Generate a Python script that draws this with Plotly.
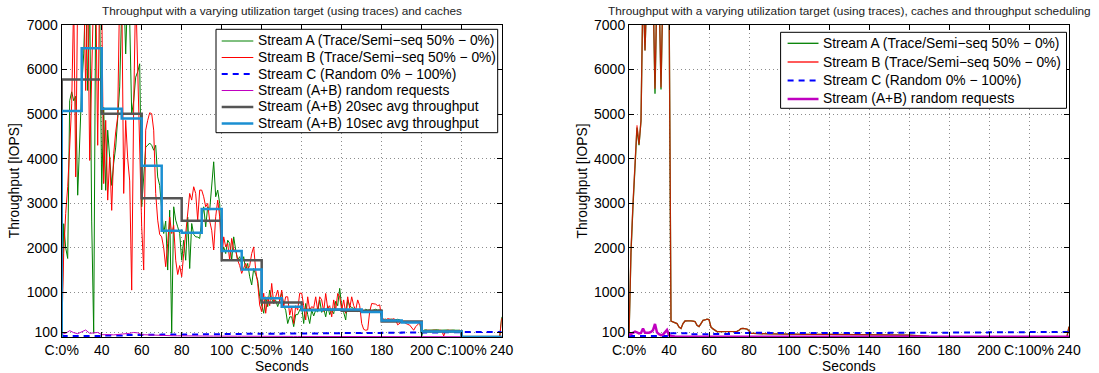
import plotly.graph_objects as go

W, H = 1099, 373

# ---------------- data: left panel (caches only) ----------------
t_sec = list(range(20, 241))  # one sample per second

stream_a = [
    0, 2540, 2000, 1760, 5300, 5500, 5300, 5400, 3180, 4600,      # 20-29
    5600, 6350, 7800, 5530, 7600, 2600, 80, 7600, 8200, 7400,     # 30-39
    3300, 5150, 3290, 4640, 4100, 3400, 3900, 4260, 4900, 5610,   # 40-49
    7400, 7900, 6350, 7800, 7100, 5000, 5300, 5830, 5950, 6130,   # 50-59
    2920, 3500, 4260, 4300, 4350, 4300, 4190, 4300, 3590, 3400,   # 60-69
    2920, 2320, 2600, 1500, 2845, 80, 2920, 2620, 2470, 2320,     # 70-79
    1720, 2170, 1720, 2690, 1535, 2545, 2300, 2245, 2240, 2210,   # 80-89
    2620, 2920, 2470, 2920, 2845, 3370, 3930, 3145, 3295, 2995,   # 90-99
    1800, 2020, 1870, 2170, 2100, 1720, 2245, 1950, 1720, 1800,   # 100-109
    1650, 1800, 1500, 1650, 1350, 1165, 1535, 1400, 1275, 900,    # 110-119
    680, 530, 900, 680, 1050, 850, 750, 820, 680, 850,            # 120-129
    980, 700, 600, 300, 450, 450, 230, 500, 500, 600,             # 130-139
    680, 300, 750, 500, 300, 600, 470, 600, 560, 830,             # 140-149
    550, 640, 450, 700, 500, 600, 520, 800, 700, 1090,            # 150-159
    680, 550, 380, 830, 700, 660, 640, 600, 570, 600,             # 160-169
    600, 580, 620, 600, 610, 590, 600, 620, 600, 610,             # 170-179
    415, 390, 400, 380, 390, 400, 380, 390, 395, 385,             # 180-189
    350, 340, 330, 345, 340, 335, 345, 340, 330, 340,             # 190-199
    20, 150, 160, 150, 155, 160, 150, 155, 160, 150,              # 200-209
    155, 150, 160, 155, 150, 160, 155, 150, 155, 150,             # 210-219
    0, 0, 0, 0, 0, 0, 0, 0, 0, 0,                                 # 220-229
    0, 0, 0, 0, 0, 0, 0, 0, 0, 0,                                 # 230-239
    450,                                                          # 240
]

stream_b = [
    0, 1870, 2770, 3370, 4260, 5230, 7600, 3590, 7800, 7900,      # 20-29
    7700, 8000, 5530, 7900, 3960, 6350, 7800, 8000, 4300, 8000,   # 30-39
    7600, 3440, 4860, 3070, 4040, 2840, 4110, 4600, 4940, 7800,   # 40-49
    7900, 3220, 4860, 4000, 3500, 1050, 5230, 7800, 6000, 4860,   # 50-59
    2470, 1500, 4640, 4860, 5030, 5010, 4640, 3220, 2620, 2300,   # 60-69
    2245, 2000, 1575, 2100, 2690, 2320, 2500, 1720, 1400, 1600,   # 70-79
    1350, 1870, 2320, 2920, 3220, 3070, 3370, 3220, 2620, 3295,   # 80-89
    3295, 3145, 2920, 2995, 2600, 2395, 1950, 2695, 3070, 2695,   # 90-99
    1720, 2245, 2020, 2100, 1720, 2210, 1950, 1950, 1720, 1600,   # 100-109
    1425, 1550, 1650, 1500, 1600, 1870, 2020, 1500, 1200, 715,    # 110-119
    565, 980, 530, 900, 700, 1200, 750, 900, 1050, 800,           # 120-129
    1050, 680, 900, 900, 490, 680, 300, 700, 600, 980,            # 130-139
    980, 700, 380, 900, 600, 680, 650, 900, 600, 900,             # 140-149
    830, 570, 975, 640, 700, 450, 830, 600, 975, 900,             # 150-159
    600, 830, 530, 900, 640, 900, 700, 600, 830, 700,             # 160-169
    300, 170, 150, 160, 570, 750, 740, 735, 700, 720,             # 170-179
    420, 400, 380, 410, 400, 390, 410, 380, 270, 300,             # 180-189
    340, 330, 300, 280, 265, 200, 150, 230, 280, 320,             # 190-199
    120, 140, 145, 150, 140, 145, 150, 140, 145, 150,             # 200-209
    145, 20, 140, 150, 145, 140, 150, 145, 140, 150,              # 210-219
    0, 0, 0, 0, 0, 0, 0, 0, 0, 0,                                 # 220-229
    0, 0, 0, 0, 0, 0, 0, 0, 0, 0,                                 # 230-239
    420,                                                          # 240
]

t_2sec = list(range(20, 241, 2))
random_ab = [
    60, 80, 140, 95, 72, 110, 155, 80, 95, 100,
    50, 55, 50, 45, 50, 60, 65, 80, 100, 90,
    50, 45, 40, 35, 35, 30, 30, 28, 25, 25,
    22, 20, 20, 22, 20, 18, 20, 18, 18, 20,
    18, 18, 16, 16, 15, 15, 16, 15, 14, 14,
    14, 13, 13, 12, 12, 12, 11, 11, 11, 10,
    10, 10, 10, 10, 9, 9, 9, 9, 9, 8,
    8, 8, 8, 8, 8, 7, 7, 7, 7, 7,
    7, 6, 6, 6, 6, 6, 6, 5, 5, 5,
    5, 5, 5, 5, 5, 5, 4, 4, 4, 4,
    4, 4, 4, 4, 3, 3, 3, 3, 3, 3,
    3,
]

# Stream C level, one value per 10 s window (20..230) plus the end point at 240
t_10 = list(range(20, 241, 10))
stream_c = [20, 22, 30, 45, 50, 52, 55, 60, 65, 68, 70, 75,
            78, 80, 85, 88, 95, 100, 100, 105, 108, 110, 112]

# averaged throughput of A+B
avg10_start = list(range(20, 240, 10))
avg10 = [5070, 6480, 5120, 4900, 3840, 2380, 2340, 2870, 1930, 1510, 865,
         675, 600, 615, 617, 557, 370, 325, 123, 123, 0, 0]
avg20_start = list(range(20, 240, 20))
avg20 = [5775, 5010, 3110, 2605, 1720, 770, 608, 587, 348, 123, 0]

# ---------------- data: right panel (caches + throughput scheduling) ----------------
t_sched = list(range(20, 101)) + [110, 120, 130, 140, 150, 160, 170, 180,
                                  190, 200, 210, 220, 230, 239, 240]
sched_a = [
    0, 1900, 2950, 3850, 4700, 4300, 4850, 7900, 6430, 7900,
    7900, 7900, 7900, 5460, 7900, 7900, 5550, 7900, 7900, 7900,
    7900, 357, 340, 320, 300, 220, 190, 300, 357, 360,
    365, 360, 355, 345, 260, 230, 300, 370, 380, 400,
    390, 220, 180, 140, 120, 118, 118, 118, 118, 118,
    118, 118, 118, 120, 125, 150, 185, 190, 180, 175,
    140, 80, 78, 75, 72, 70, 70, 70, 68, 68,
    68, 67, 66, 66, 65, 65, 64, 64, 63, 63, 62,
    58, 55, 50, 47, 45, 40, 10, 6, 5, 5, 5, 5, 5, 5, 230,
]
sched_b = [
    0, 1950, 3000, 3900, 4750, 4320, 4860, 7900, 6430, 7900,
    7900, 7900, 7900, 5570, 7900, 7900, 5600, 7900, 7900, 7900,
    7900, 357, 340, 320, 300, 220, 190, 300, 357, 360,
    365, 360, 355, 345, 260, 230, 300, 370, 380, 400,
    390, 220, 180, 140, 120, 118, 118, 118, 118, 118,
    118, 118, 118, 120, 125, 150, 185, 190, 180, 175,
    140, 80, 78, 75, 72, 70, 70, 70, 68, 68,
    68, 67, 66, 66, 65, 65, 64, 64, 63, 63, 62,
    58, 55, 50, 47, 45, 40, 10, 6, 5, 5, 5, 5, 5, 5, 230,
]
t_sched_rnd = list(range(20, 47)) + [50, 60, 80, 100, 120, 140, 160, 180, 200, 220, 240]
sched_random_ab = [
    40, 70, 100, 118, 100, 80, 90, 190, 95, 90,
    95, 110, 150, 290, 100, 60, 40, 50, 100, 155,
    40, 20, 12, 10, 8, 8, 7,
    6, 5, 5, 4, 4, 3, 3, 3, 3, 3, 3,
]
sched_stream_c = [20, 22, 80, 60, 65, 90, 92, 90, 88, 85, 85, 88,
                  90, 92, 95, 95, 98, 100, 102, 105, 108, 110, 112]

# ---------------- labels ----------------
x_ticks = [20, 40, 60, 80, 100, 120, 140, 160, 180, 200, 220, 240]
x_labels = ["C:0%", "40", "60", "80", "100", "C:50%", "140", "160", "180",
            "200", "C:100%", "240"]
y_ticks = [100, 1000, 2000, 3000, 4000, 5000, 6000, 7000]

title_left = "Throughput with a varying utilization target (using traces) and caches"
title_right = ("Throughput with a varying utilization target (using traces), "
               "caches and throughput scheduling")
name_a = "Stream A (Trace/Semi\u2212seq 50% \u2212 0%)"
name_b = "Stream B (Trace/Semi\u2212seq 50% \u2212 0%)"
name_c = "Stream C (Random 0% \u2212 100%)"
name_rnd = "Stream (A+B) random requests"
name_20 = "Stream (A+B) 20sec avg throughput"
name_10 = "Stream (A+B) 10sec avg throughput"

# ---------------- styling ----------------
FONT = "Liberation Sans, Arial, Helvetica, sans-serif"
GREEN = "#008000"
RED = "#ff0000"
BLUE = "#0000ff"
MAGENTA = "#c000c0"
GRAY = "#555555"
SKY = "#1b8fd2"
DASH = "6px,5px"


def step_xy(starts, values, end=240):
    xs = [starts[0]] + list(starts) + [end]
    ys = [0] + list(values) + [values[-1]]
    return xs, ys


def px_x(v):
    return v / W


def px_y(v):
    return 1 - v / H


fig = go.Figure()

# left panel
left = [
    dict(x=t_sec, y=stream_a, name=name_a, color=GREEN, width=1, dash="solid"),
    dict(x=t_sec, y=stream_b, name=name_b, color=RED, width=1, dash="solid"),
    dict(x=t_10, y=stream_c, name=name_c, color=BLUE, width=2, dash=DASH, shape="hv"),
    dict(x=t_2sec, y=random_ab, name=name_rnd, color=MAGENTA, width=1, dash="solid"),
]
x20, y20 = step_xy(avg20_start, avg20)
x10, y10 = step_xy(avg10_start, avg10)
left += [
    dict(x=x20, y=y20, name=name_20, color=GRAY, width=2.5, dash="solid", shape="hv"),
    dict(x=x10, y=y10, name=name_10, color=SKY, width=2.5, dash="solid", shape="hv"),
]
for s in left:
    fig.add_trace(go.Scatter(
        x=s["x"], y=s["y"], name=s["name"], mode="lines", xaxis="x", yaxis="y",
        line=dict(color=s["color"], width=s["width"], dash=s["dash"],
                  shape=s.get("shape", "linear")),
        showlegend=False))

# right panel
right = [
    dict(x=t_sched, y=sched_a, name=name_a, color=GREEN, width=1.3, dash="solid"),
    dict(x=t_sched, y=sched_b, name=name_b, color=RED, width=1.3, dash="solid",
         opacity=0.7),
    dict(x=t_10, y=sched_stream_c, name=name_c, color=BLUE, width=2, dash=DASH, shape="hv"),
    dict(x=t_sched_rnd, y=sched_random_ab, name=name_rnd, color=MAGENTA, width=2.5,
         dash="solid"),
]
for s in right:
    fig.add_trace(go.Scatter(
        x=s["x"], y=s["y"], name=s["name"], mode="lines", xaxis="x2", yaxis="y2",
        opacity=s.get("opacity", 1.0),
        line=dict(color=s["color"], width=s["width"], dash=s["dash"],
                  shape=s.get("shape", "linear")),
        showlegend=False))

# axes
plot_left = (61.7, 501.7)
plot_right = (629.0, 1069.0)
plot_top, plot_bottom = 25.0, 336.9

xaxis_common = dict(
    range=[20, 240], tickvals=x_ticks, ticktext=x_labels,
    showline=True, linecolor="black", linewidth=1, mirror="ticks",
    ticks="inside", ticklen=5, tickcolor="black",
    showgrid=True, gridcolor="#8c8c8c", griddash="1px,3px", gridwidth=1,
    zeroline=False, tickfont=dict(family=FONT, size=14, color="black"),
    fixedrange=True, automargin=False,
)
yaxis_common = dict(
    range=[0, 7000], tickvals=y_ticks,
    showline=True, linecolor="black", linewidth=1, mirror="ticks",
    ticks="inside", ticklen=5, tickcolor="black",
    showgrid=True, gridcolor="#8c8c8c", griddash="1px,3px", gridwidth=1,
    zeroline=False, tickfont=dict(family=FONT, size=14, color="black"),
    domain=[px_y(plot_bottom), px_y(plot_top)], fixedrange=True, automargin=False,
)

fig.update_layout(
    width=W, height=H, autosize=False,
    margin=dict(l=0, r=0, t=0, b=0, pad=0, autoexpand=False),
    paper_bgcolor="white", plot_bgcolor="white",
    font=dict(family=FONT, size=14, color="black"),
    xaxis=dict(xaxis_common, domain=[px_x(plot_left[0]), px_x(plot_left[1])], anchor="y"),
    yaxis=dict(yaxis_common, anchor="x"),
    xaxis2=dict(xaxis_common, domain=[px_x(plot_right[0]), px_x(plot_right[1])], anchor="y2"),
    yaxis2=dict(yaxis_common, anchor="x2"),
    showlegend=False,
)

annotations = []
shapes = []

# titles and axis labels
for (x0, x1), title in ((plot_left, title_left), (plot_right, title_right)):
    cx = (x0 + x1) / 2
    annotations.append(dict(text=title, x=px_x(cx), y=px_y(10.5), xref="paper", yref="paper",
                            xanchor="center", yanchor="middle", showarrow=False,
                            font=dict(family=FONT, size=11.8, color="#222222")))
    annotations.append(dict(text="Seconds", x=px_x(cx), y=px_y(366.5), xref="paper",
                            yref="paper", xanchor="center", yanchor="middle",
                            showarrow=False, font=dict(family=FONT, size=13.8)))
    annotations.append(dict(text="Throughput [IOPS]", x=px_x(x0 - 46.4),
                            y=px_y((plot_top + plot_bottom) / 2), xref="paper",
                            yref="paper", xanchor="center", yanchor="middle",
                            textangle=-90, showarrow=False, font=dict(family=FONT, size=13.8)))


# legend boxes drawn as shapes and text
def add_legend(entries, box, rows, line_x, text_x):
    bx0, by0, bx1, by1 = box
    shapes.append(dict(type="rect", xref="paper", yref="paper",
                       x0=px_x(bx0), x1=px_x(bx1), y0=px_y(by1), y1=px_y(by0),
                       fillcolor="white", line=dict(color="black", width=1)))
    for e, ry in zip(entries, rows):
        shapes.append(dict(type="line", xref="paper", yref="paper",
                           x0=px_x(line_x[0]), x1=px_x(line_x[1]),
                           y0=px_y(ry), y1=px_y(ry),
                           line=dict(color=e["color"], width=e["width"], dash=e["dash"])))
        annotations.append(dict(text=e["name"], x=px_x(text_x), y=px_y(ry),
                                xref="paper", yref="paper", xanchor="left",
                                yanchor="middle", showarrow=False,
                                font=dict(family=FONT, size=13.8, color="black")))


add_legend(left, (216.0, 29.3, 497.7, 132.7),
           [41.0, 57.5, 74.0, 90.5, 107.0, 123.5], (221.7, 253.3), 255.5)
right_legend = [dict(s) for s in right]
right_legend[1]["color"] = RED
add_legend(right_legend, (780.6, 32.3, 1066.5, 108.3),
           [43.3, 62.0, 80.5, 99.0], (787.6, 818.5), 820.8)

fig.update_layout(annotations=annotations, shapes=shapes)

fig.write_html("out.html")
